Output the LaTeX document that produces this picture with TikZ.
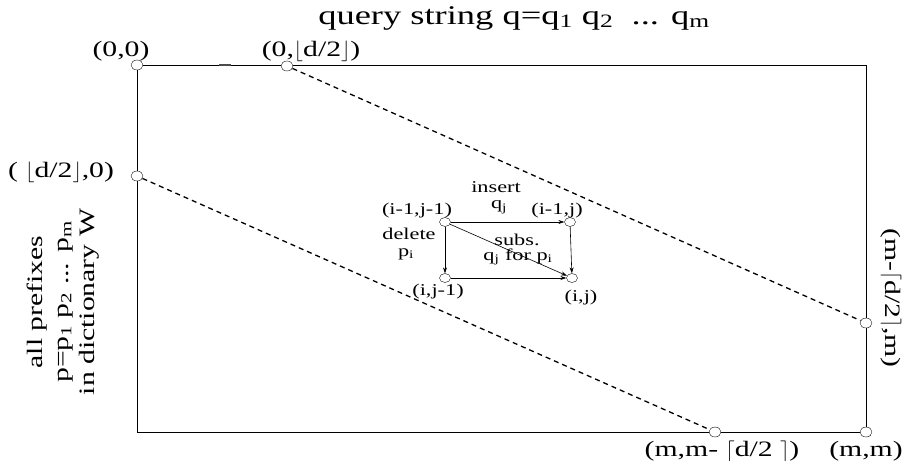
\documentclass[tikz,border=0pt]{standalone}
\usepackage{fontspec}
\setmainfont[FakeStretch=1.35]{Liberation Serif}
\usepackage{tikz}
\usetikzlibrary{shapes.geometric, arrows.meta, positioning, calc}

\begin{document}
\begin{tikzpicture}[
    x=1pt, y=-1pt,
    dot/.style={ellipse, draw, fill=white, inner sep=0pt, minimum width=12pt, minimum height=10pt},
    sdot/.style={ellipse, draw, fill=white, inner sep=0pt, minimum width=11pt, minimum height=9pt},
    edge/.style={line width=0.8pt},
    diag/.style={dashed, line width=1.3pt, dash pattern=on 5pt off 4pt},
    move/.style={-{Stealth[length=6pt,width=4pt]}, line width=0.6pt},
    lbl/.style={font=\fontsize{22}{24}\selectfont, inner sep=0pt},
    sml/.style={font=\fontsize{16.5}{17}\selectfont, inner sep=0pt},
    ttl/.style={font=\fontsize{27}{29}\selectfont, inner sep=0pt}
]
\useasboundingbox (0,0) rectangle (917,463);

% corners of the table
\coordinate (tl) at (137,65);
\coordinate (tr) at (866,65);
\coordinate (bl) at (137,432);
\coordinate (br) at (866,432);
\draw[edge] (tl) -- (tr) -- (br) -- (bl) -- cycle;
\draw[line width=1.6pt, black!70] (219,65) -- (231,65);

\node[dot] (c00)  at (tl) {};
\node[dot] (c0d)  at (287,66) {};
\node[dot] (cd0)  at (137,176) {};
\node[dot] (cmd)  at (866,323) {};
\node[dot] (cmmd) at (715,432) {};
\node[dot] (cmm)  at (br) {};

\draw[diag] (c0d) -- (cmd);
\draw[diag] (cd0) -- (cmmd);

\node[ttl] (title) at (514,18) {query string q=q\textsubscript{1} q\textsubscript{2}\ \ ... q\textsubscript{m}};
\node[lbl] (l00)  at (121,51)  {(0,0)};
\node[lbl] (l0d)  at (311,51)  {(0,$\lfloor$d/2$\rfloor$)};
\node[lbl] (ld0)  at (61,172)  {( $\lfloor$d/2$\rfloor$,0)};
\node[lbl, rotate=-90] (lmd) at (891,298) {(m-$\lceil$d/2$\rceil$,m)};
\node[lbl] (lmmd) at (722,451) {(m,m- $\lceil$d/2 $\rceil$)};
\node[lbl] (lmm)  at (866,451) {(m,m)};
\node[lbl, rotate=90, align=center, font=\fontsize{22}{26}\selectfont] (words) at (63,302)
    {all prefixes\\p=p\textsubscript{1} p\textsubscript{2} ... p\textsubscript{m}\\in dictionary W};

% one step of the recurrence
\node[sdot] (nw) at (445,222) {};
\node[sdot] (ne) at (570,222) {};
\node[sdot] (sw) at (445,278) {};
\node[sdot] (se) at (572,278) {};
\draw[move] (nw) -- (ne);
\draw[move] (nw) -- (sw);
\draw[move] (ne) -- (se);
\draw[move] (sw) -- (se);
\draw[move] (nw) -- (se);

\node[sml] (lnw) at (417,211) {(i-1,j-1)};
\node[sml] (lne) at (557,211) {(i-1,j)};
\node[sml] (lsw) at (438,292) {(i,j-1)};
\node[sml] (lse) at (581,298) {(i,j)};
\node[sml] (ins)  at (496,187) {insert};
\node[sml] (insq) at (499,207) {q\textsubscript{j}};
\node[sml] (del)  at (409,234) {delete};
\node[sml] (delp) at (406,254) {p\textsubscript{i}};
\node[sml] (sub)  at (517,240) {subs.};
\node[sml] (subq) at (518,257) {q\textsubscript{j} for p\textsubscript{i}};
\end{tikzpicture}
\end{document}
